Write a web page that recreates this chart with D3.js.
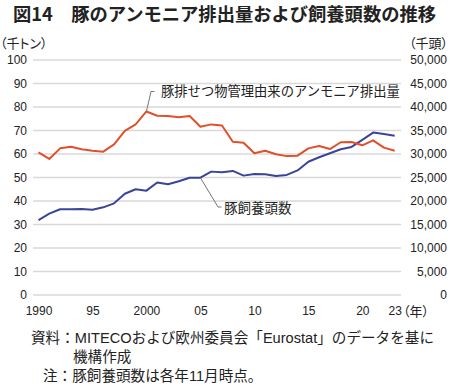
<!DOCTYPE html>
<html>
<head>
<meta charset="utf-8">
<script src="https://cdn.jsdelivr.net/npm/d3@7"></script>
<style>
  body { margin: 0; background: #fff; }
  svg { display: block; font-family: "Liberation Sans", "Noto Sans CJK JP", sans-serif; }
  .jp { font-family: "Noto Sans CJK JP", sans-serif; }
  .mix { font-family: "Liberation Sans", "Noto Sans CJK JP", sans-serif; }
  .palt { font-feature-settings: "palt"; }
</style>
</head>
<body>
<div id="wrapper"></div>
<script>
// years 1990..2023
let years = d3.range(1990, 2024);

// ammonia from pig manure management (thousand tonnes, left axis)
let ammonia = [60.7, 57.9, 62.4, 63.1, 62.0, 61.4, 61.0, 64.1, 69.8, 72.6,
               78.1, 76.3, 76.2, 75.6, 76.2, 71.6, 72.6, 72.1, 65.2, 64.8,
               60.3, 61.4, 59.9, 59.1, 59.3, 62.4, 63.4, 62.1, 65.0, 65.1,
               63.7, 65.8, 62.7, 61.4];

// pigs kept (thousand head, right axis)
let pigs = [15950, 17300, 18250, 18250, 18300, 18150, 18650, 19500, 21550, 22500,
            22200, 23950, 23550, 24200, 24950, 24950, 26250, 26100, 26400, 25400,
            25750, 25700, 25300, 25550, 26500, 28350, 29300, 30150, 31000, 31500,
            33000, 34550, 34250, 33900];

let leftTicks = [0, 10, 20, 30, 40, 50, 60, 70, 80, 90, 100];
let rightTicks = [0, 5000, 10000, 15000, 20000, 25000, 30000, 35000, 40000, 45000, 50000];
let xTickYears = [1990, 1995, 2000, 2005, 2010, 2015, 2020, 2023];
let xTickLabels = ['1990', '95', '2000', '05', '10', '15', '20', '23'];

let redColor = '#e0502b';
let blueColor = '#3b4597';

let width = 450, height = 390;
let svg = d3.select('#wrapper').append('svg')
    .attr('width', width).attr('height', height);

let xScale = d3.scaleLinear().domain([1990, 2023]).range([38.5, 394.7]);
let yLeft = d3.scaleLinear().domain([0, 100]).range([295, 60]);
let yRight = d3.scaleLinear().domain([0, 50000]).range([295, 60]);

// title
svg.append('text').classed('jp', true)
    .attr('x', 13).attr('y', 20.5)
    .attr('font-size', 18.3).attr('font-weight', 'bold').attr('fill', '#222')
    .text('図14　豚のアンモニア排出量および飼養頭数の推移');

// unit labels
svg.append('text').classed('jp palt', true)
    .attr('x', 0).attr('y', 48).attr('font-size', 13).attr('fill', '#222')
    .text('（千トン）');
svg.append('text').classed('jp palt', true)
    .attr('x', 448).attr('y', 48).attr('text-anchor', 'end')
    .attr('font-size', 13).attr('fill', '#222')
    .text('（千頭）');

// gridlines
svg.append('g').selectAll('line').data(leftTicks).enter().append('line')
    .attr('x1', 33).attr('x2', 401)
    .attr('y1', d => yLeft(d)).attr('y2', d => yLeft(d))
    .attr('stroke', '#d9d9d9').attr('stroke-width', 1.5);

// left axis
let leftAxis = svg.append('g').attr('transform', 'translate(27,0)')
    .call(d3.axisLeft(yLeft).tickValues(leftTicks).tickSize(0).tickPadding(0));
leftAxis.select('.domain').remove();
leftAxis.selectAll('text').attr('font-size', 12).attr('fill', '#222')
    .attr('font-family', '"Liberation Sans", sans-serif');

// right axis
let rightAxis = svg.append('g').attr('transform', 'translate(447,0)')
    .call(d3.axisLeft(yRight).tickValues(rightTicks).tickSize(0).tickPadding(0)
        .tickFormat(d3.format(',')));
rightAxis.select('.domain').remove();
rightAxis.selectAll('text').attr('font-size', 12).attr('fill', '#222')
    .attr('font-family', '"Liberation Sans", sans-serif');

// bottom axis
let bottomAxis = svg.append('g').attr('transform', 'translate(0,306)')
    .call(d3.axisBottom(xScale).tickValues(xTickYears).tickSize(0).tickPadding(0)
        .tickFormat((d, i) => xTickLabels[i]));
bottomAxis.select('.domain').remove();
bottomAxis.selectAll('text').attr('font-size', 12).attr('fill', '#222')
    .attr('font-family', '"Liberation Sans", sans-serif');

svg.append('text').classed('jp palt', true)
    .attr('x', 403).attr('y', 315.5).attr('font-size', 13).attr('fill', '#222')
    .text('（年）');

// lines
let redLine = d3.line().x((d, i) => xScale(years[i])).y(d => yLeft(d));
let blueLine = d3.line().x((d, i) => xScale(years[i])).y(d => yRight(d));

svg.append('path').datum(pigs)
    .attr('d', blueLine).attr('fill', 'none')
    .attr('stroke', blueColor).attr('stroke-width', 2).attr('stroke-linejoin', 'round');

svg.append('path').datum(ammonia)
    .attr('d', redLine).attr('fill', 'none')
    .attr('stroke', redColor).attr('stroke-width', 2).attr('stroke-linejoin', 'round');

// annotations
let redPeak = [xScale(2000), yLeft(ammonia[10])];
svg.append('path')
    .attr('d', d3.line()([redPeak, [151, 91.5], [154.5, 91.5]]))
    .attr('fill', 'none').attr('stroke', '#777').attr('stroke-width', 1);
svg.append('text').classed('jp', true)
    .attr('x', 161).attr('y', 96).attr('font-size', 13.3).attr('fill', '#222')
    .text('豚排せつ物管理由来のアンモニア排出量');

let bluePt = [xScale(2005), yRight(pigs[15])];
svg.append('path')
    .attr('d', d3.line()([bluePt, [218, 207], [221.5, 207]]))
    .attr('fill', 'none').attr('stroke', '#777').attr('stroke-width', 1);
svg.append('text').classed('jp', true)
    .attr('x', 224).attr('y', 212.5).attr('font-size', 13.5).attr('fill', '#222')
    .text('豚飼養頭数');

// notes
let notes = svg.append('g').classed('mix', true).attr('font-size', 14.6).attr('fill', '#222');
notes.append('text').attr('x', 31).attr('y', 343)
    .text('資料：MITECOおよび欧州委員会「Eurostat」のデータを基に');
notes.append('text').attr('x', 73).attr('y', 362).text('機構作成');
notes.append('text').attr('x', 43).attr('y', 381).text('注：豚飼養頭数は各年11月時点。');
</script>
</body>
</html>
